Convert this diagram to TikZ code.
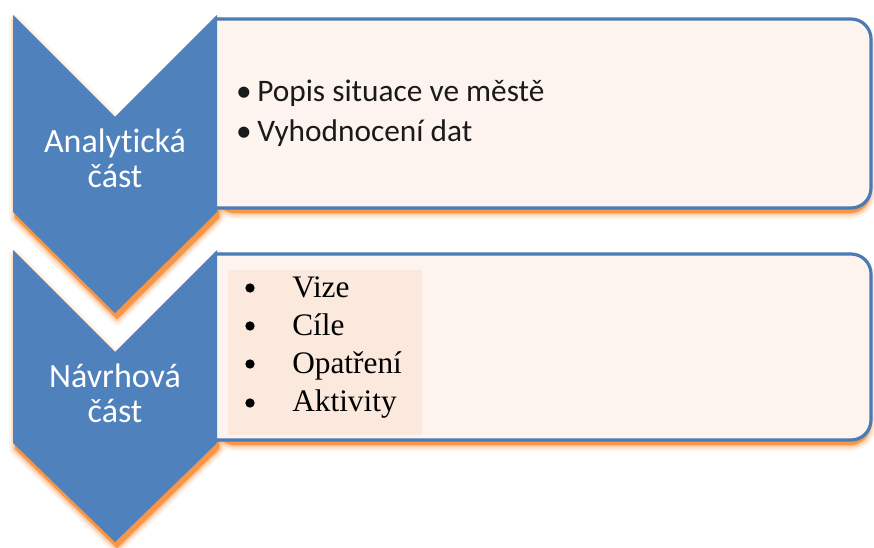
\documentclass[tikz,border=0pt]{standalone}
\usepackage{fontspec}
\setmainfont{Carlito}[Ligatures=NoCommon]
\newfontfamily\serifx{Liberation Serif}
\definecolor{cblue}{HTML}{4F81BD}
\definecolor{cbord}{HTML}{4A7BB5}
\definecolor{boxfill}{HTML}{FDF4EF}
\definecolor{innerfill}{HTML}{FBE9DD}
\definecolor{shad}{HTML}{F79646}
\definecolor{txt}{HTML}{1A1A1A}
\tikzset{
  chev/.style={fill=cblue},
  boxshape/.style={fill=boxfill, draw=cbord, line width=2.4pt, rounded corners=15pt},
  shadowsoft/.style={draw=shad, line join=round, rounded corners=15pt},
  chevtext/.style={text=white, align=center, anchor=base, inner sep=0pt, font=\fontsize{25.5}{26.5}\selectfont},
  itemtext/.style={text=txt, anchor=base west, inner sep=0pt, font=\fontsize{23.5}{28}\selectfont},
  itembul/.style={text=txt, anchor=base, inner sep=0pt, font=\fontsize{23.5}{28}\selectfont},
  sertext/.style={text=black, anchor=base west, inner sep=0pt, font=\serifx\fontsize{23.5}{28}\selectfont},
  serbul/.style={fill=black, circle, inner sep=0pt, minimum size=7pt},
}
\newcommand\orangeglow[1]{%
  \foreach \w/\o in {12/0.10,8/0.15,5/0.22,2/0.35}{%
    \draw[shadowsoft, opacity=\o, line width=\w*0.75pt] #1;}%
  \fill[shad, rounded corners=15pt] #1;}
\newcommand\chevglow[1]{%
  \foreach \w/\o in {12/0.10,8/0.15,5/0.22,2/0.35}{%
    \draw[draw=shad, line join=round, opacity=\o, line width=\w*0.75pt] #1;}%
  \fill[shad] #1;}
\begin{document}
\begin{tikzpicture}[x=0.75pt,y=-0.75pt]
\useasboundingbox[fill=white] (0,0) rectangle (874,548);
% shadows of boxes
\begin{scope}[shift={(1,7)}]
  \orangeglow{(214,18) -- (869,18) -- (869,206) -- (214,206) -- cycle}
  \orangeglow{(214,253) -- (869,253) -- (869,438) -- (214,438) -- cycle}
\end{scope}
% shadows of chevrons
\begin{scope}[shift={(2,6)}]
  \chevglow{(13,15) -- (115,117) -- (217,15) -- (217,212) -- (115,313) -- (13,212) -- cycle}
  \chevglow{(13,250) -- (115,352) -- (217,250) -- (217,443) -- (115,542) -- (13,443) -- cycle}
\end{scope}
% boxes
\draw[boxshape] (214,19) -- (871,19) -- (871,208) -- (214,208);
\draw[boxshape] (214,254) -- (871,254) -- (871,440) -- (214,440);
\fill[innerfill] (228,270) rectangle (422,435);
% chevrons
\fill[chev] (13,15) -- (115,117) -- (217,15) -- (217,212) -- (115,313) -- (13,212) -- cycle;
\fill[chev] (13,250) -- (115,352) -- (217,250) -- (217,443) -- (115,542) -- (13,443) -- cycle;
% chevron texts (base = last line)
\node[chevtext] (ana) at (115,188) {Analytická\\část};
\node[chevtext] (nav) at (115,423) {Návrhová\\část};
% list 1
\node[itembul] (b1) at (244,102) {•};
\node[itemtext] (t1) at (257,102) {Popis situace ve městě};
\node[itembul] (b2) at (244,142) {•};
\node[itemtext] (t2) at (257,142) {Vyhodnocení dat};
% list 2
\node[serbul] (s1) at (250,288) {};
\node[sertext] (v1) at (292,298) {Vize};
\node[serbul] (s2) at (250,326) {};
\node[sertext] (v2) at (292,336) {Cíle};
\node[serbul] (s3) at (250,364) {};
\node[sertext] (v3) at (292,374) {Opatření};
\node[serbul] (s4) at (250,403) {};
\node[sertext] (v4) at (292,412) {Aktivity};
\end{tikzpicture}
\end{document}
